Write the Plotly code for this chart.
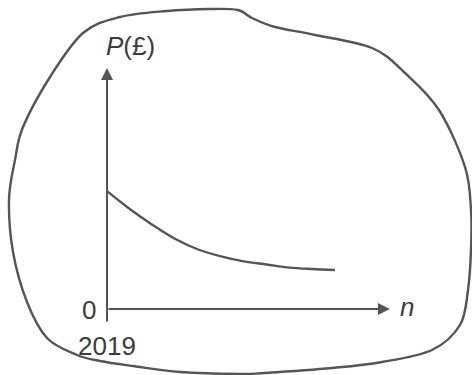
import plotly.graph_objects as go

# Sketch of P (in £) against n years after 2019: a decreasing curve levelling off
n_years = [0, 1, 2, 3, 4, 5, 6, 7, 8, 9, 10]
price = [4.95, 4.20, 3.53, 2.94, 2.50, 2.21, 2.00, 1.87, 1.74, 1.68, 1.64]

x_label = "n"
y_label = "<i>P</i>(£)"
origin_label = "0"
start_year = "2019"

W, H = 472, 375
INK = "#555555"
FONT = "Liberation Sans, Arial, sans-serif"

# axis extents (data units)
X_MIN, X_MAX = -4.693, 16.009
Y_MIN, Y_MAX = -2.773, 12.983
AXIS_X_END = 12.41
AXIS_Y_END = 10.13
AXIS_Y_START = -0.59

fig = go.Figure()
fig.add_trace(go.Scatter(
    x=n_years, y=price, mode="lines",
    line=dict(color=INK, width=2.4, shape="spline", smoothing=1.0),
    hoverinfo="skip", showlegend=False,
))

# hand-drawn outline around the sketch (pixel points, closed loop)
outline_px = [
    (238, 10), (252, 18), (275, 27), (315, 35), (372, 48), (405, 73),
    (439, 110), (465, 167), (471, 210), (471, 250), (468, 290), (460, 325),
    (432, 350), (382, 362), (332, 368), (265, 373), (240, 374), (180, 372),
    (133, 366), (100, 361), (77, 355), (47, 338), (27, 302), (13, 252),
    (9, 200), (15, 160), (23, 127), (50, 77), (83, 33), (120, 17),
    (167, 11), (210, 9),
]


def to_paper(p):
    return (p[0] / W, 1 - p[1] / H)


def closed_spline_path(pts):
    pts = [to_paper(p) for p in pts]
    n = len(pts)
    d = "M {:.5f},{:.5f}".format(*pts[0])
    for i in range(n):
        p0 = pts[(i - 1) % n]
        p1 = pts[i]
        p2 = pts[(i + 1) % n]
        p3 = pts[(i + 2) % n]
        c1 = (p1[0] + (p2[0] - p0[0]) / 6, p1[1] + (p2[1] - p0[1]) / 6)
        c2 = (p2[0] - (p3[0] - p1[0]) / 6, p2[1] - (p3[1] - p1[1]) / 6)
        d += " C {:.5f},{:.5f} {:.5f},{:.5f} {:.5f},{:.5f}".format(*c1, *c2, *p2)
    return d + " Z"


fig.add_shape(type="path", xref="paper", yref="paper",
              path=closed_spline_path(outline_px),
              line=dict(color=INK, width=2.4))

# axes drawn as arrows
fig.add_annotation(x=AXIS_X_END, y=0, ax=0, ay=0, xref="x", yref="y",
                   axref="x", ayref="y", text="", showarrow=True,
                   arrowhead=2, arrowsize=1.2, arrowwidth=2, arrowcolor=INK)
fig.add_annotation(x=0, y=AXIS_Y_END, ax=0, ay=AXIS_Y_START, xref="x", yref="y",
                   axref="x", ayref="y", text="", showarrow=True,
                   arrowhead=2, arrowsize=1.2, arrowwidth=2, arrowcolor=INK)

label_font = dict(family=FONT, size=26, color="#3c3c3c")
fig.add_annotation(x=1.05, y=11.05, text=y_label, showarrow=False,
                   xanchor="center", yanchor="middle", font=label_font)
fig.add_annotation(x=13.15, y=0.1, text="<i>" + x_label + "</i>", showarrow=False,
                   xanchor="center", yanchor="middle", font=label_font)
fig.add_annotation(x=-0.79, y=-0.04, text=origin_label, showarrow=False,
                   xanchor="center", yanchor="middle", font=label_font)
fig.add_annotation(x=0, y=-1.55, text=start_year, showarrow=False,
                   xanchor="center", yanchor="middle", font=label_font)

fig.update_xaxes(range=[X_MIN, X_MAX], visible=False, fixedrange=True)
fig.update_yaxes(range=[Y_MIN, Y_MAX], visible=False, fixedrange=True)
fig.update_layout(
    width=W, height=H,
    margin=dict(l=0, r=0, t=0, b=0),
    paper_bgcolor="white", plot_bgcolor="white",
    showlegend=False,
)

fig.write_html("out.html", config={"displayModeBar": False})
